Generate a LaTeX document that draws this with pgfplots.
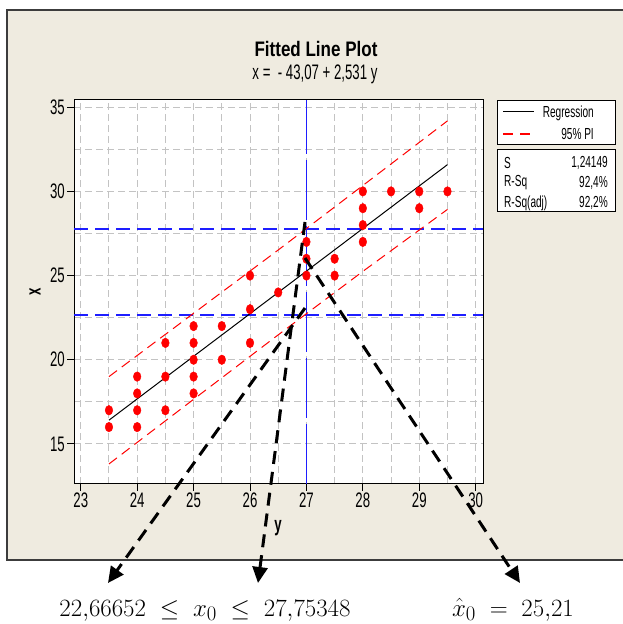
\documentclass[border=0pt]{standalone}
\usepackage{pgfplots}
\pgfplotsset{compat=1.18}
\usepackage{fontspec}
\setmainfont{Liberation Sans}[FakeStretch=0.63]
\newfontfamily\titlefont{Liberation Sans}[FakeStretch=0.81]
\usetikzlibrary{arrows.meta}
\definecolor{panel}{RGB}{239,235,224}
\definecolor{gridgray}{RGB}{195,195,195}
\definecolor{pblue}{RGB}{30,30,255}
\definecolor{pred}{RGB}{255,0,0}
\definecolor{ink}{RGB}{0,0,0}
\definecolor{framegray}{RGB}{60,60,60}

\begin{document}
\begin{tikzpicture}[x=1pt,y=1pt]
\useasboundingbox (0,0) rectangle (623,624);
\fill[panel] (7,64) rectangle (625,614);
\draw[line width=2pt,draw=framegray] (625,614) -- (7,614) -- (7,64) -- (625,64);

\begin{axis}[
    at={(74pt,140pt)}, anchor=south west,
    scale only axis, width=409pt, height=384pt,
    xmin=22.88, xmax=30.13, ymin=12.62, ymax=35.43,
    xtick={23,24,...,30}, ytick={15,20,25,30,35},
    minor xtick={23.5,24.5,...,29.5}, minor ytick={17.5,22.5,27.5,32.5},
    grid=both,
    grid style={draw=gridgray, dash pattern=on 7pt off 4pt, line width=1pt},
    minor grid style={draw=gridgray, dash pattern=on 7pt off 4pt, line width=1pt},
    tick align=outside, major tick length=7pt, minor tick length=0pt,
    tick pos=left,
    axis background/.style={fill=white},
    axis line style={draw=ink, line width=1pt},
    tick style={draw=ink, line width=1pt},
    tick label style={font=\fontsize{21}{21}\selectfont, inner sep=2pt},
    /pgf/number format/assume math mode=true,
]
% reference lines
\addplot[draw=pblue, line width=1.6pt, dash pattern=on 14pt off 7pt] coordinates {(22.88,22.66652) (30.13,22.66652)};
\addplot[draw=pblue, line width=1.6pt, dash pattern=on 14pt off 7pt] coordinates {(22.88,27.75348) (30.13,27.75348)};
\addplot[draw=pblue, line width=1.2pt, dash pattern=on 60pt off 6pt] coordinates {(27,12.62) (27,35.43)};
% prediction interval
\addplot[draw=pred, line width=1pt, dash pattern=on 10pt off 6pt] coordinates {
    (23.5,19.00) (25,22.76) (26.5,26.52) (28,30.35) (29.5,34.19)};
\addplot[draw=pred, line width=1pt, dash pattern=on 10pt off 6pt] coordinates {
    (23.5,13.81) (25,17.65) (26.5,21.48) (28,25.25) (29.5,28.93)};
% regression
\addplot[draw=ink, line width=1pt] coordinates {(23.5,16.41) (29.5,31.59)};
% data
\addplot[only marks, mark=*, draw=pred, fill=pred, mark size=4.8pt, mark options={xscale=0.8}] coordinates {
    (23.5,17) (23.5,16)
    (24,19) (24,18) (24,17) (24,16)
    (24.5,21) (24.5,19) (24.5,17)
    (25,22) (25,21) (25,20) (25,19) (25,18)
    (25.5,22) (25.5,20)
    (26,25) (26,23) (26,21)
    (26.5,24)
    (27,27) (27,26) (27,25)
    (27.5,26) (27.5,25)
    (28,30) (28,29) (28,28) (28,27)
    (28.5,30)
    (29,30) (29,29)
    (29.5,30)};
\end{axis}

% titles and axis labels
\node[anchor=base, inner sep=0] at (316,567) {\titlefont\bfseries\fontsize{21}{21}\selectfont Fitted Line Plot};
\node[anchor=base, inner sep=0] at (315,544) {\fontsize{21}{21}\selectfont x =\ \ - 43,07 + 2,531 y};
\node[rotate=90, inner sep=0] at (35,332) {\bfseries\fontsize{21}{21}\selectfont x};
\node[inner sep=0] at (278,96) {\bfseries\fontsize{21}{21}\selectfont y};

% legend
\draw[draw=ink, line width=1pt, fill=white] (497,479) rectangle (615,523);
\draw[draw=ink, line width=1pt, fill=white] (497,412) rectangle (615,474);
\draw[draw=ink, line width=1pt] (503,512) -- (534,512);
\draw[draw=pred, line width=1.2pt, dash pattern=on 10pt off 7pt] (503,490) -- (534,490);
\begin{scope}[every node/.style={inner sep=0, font=\fontsize{16}{16}\selectfont}]
\node[anchor=east] at (594,511) {Regression};
\node[anchor=east] at (594,490) {95\% PI};
\node[anchor=west] at (504,461) {S};
\node[anchor=east] at (608,461) {1,24149};
\node[anchor=west] at (504,441) {R-Sq};
\node[anchor=east] at (608,441) {92,4\%};
\node[anchor=west] at (504,421) {R-Sq(adj)};
\node[anchor=east] at (608,421) {92,2\%};
\end{scope}

% annotation arrows
\begin{scope}[draw=ink, fill=ink, line width=3pt, dash pattern=on 13pt off 8pt]
\draw[-{Triangle[length=16pt,width=15pt]}] (305,402) -- (258,41);
\draw[-{Triangle[length=16pt,width=15pt]}] (305,316) -- (108,41);
\draw[-{Triangle[length=16pt,width=15pt]}] (305,366) -- (520,41);
\end{scope}

\node[anchor=base, inner sep=0] at (205,8) {\fontsize{31}{31}\selectfont $22{,}66652 \mathrel{\;\leq\;} x_0 \mathrel{\;\leq\;} 27{,}75348$};
\node[anchor=base, inner sep=0] at (513,8) {\fontsize{31}{31}\selectfont $\hat{x}_0 \mathrel{\;=\;} 25{,}21$};
\end{tikzpicture}
\end{document}
